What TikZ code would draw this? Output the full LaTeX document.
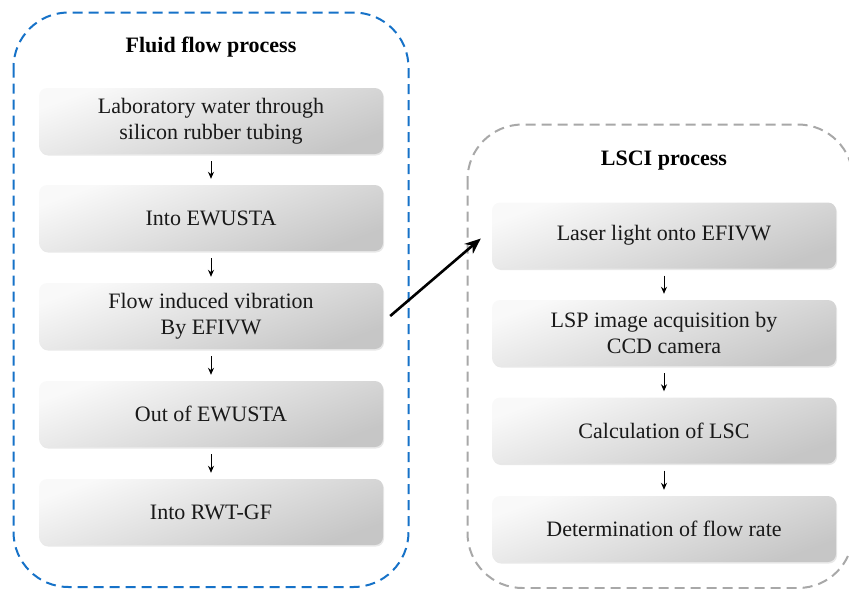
\documentclass[tikz,border=0pt]{standalone}
\usepackage{fontspec}
\setmainfont{Liberation Serif}
\usetikzlibrary{arrows.meta,calc,shadows}
\definecolor{flowblue}{RGB}{22,114,200}
\definecolor{lsgray}{RGB}{168,168,168}
\definecolor{txt}{RGB}{25,25,25}
\tikzset{
  stepbox/.style={rounded corners=8pt, minimum width=344pt, minimum height=66pt,
    inner sep=2pt, align=center, font=\fontsize{22}{26.5}\selectfont, text=txt,
    top color=gray!5, bottom color=gray!45, shading angle=20,
    drop shadow={opacity=0.18, shadow xshift=1pt, shadow yshift=-1.5pt}},
  grouptitle/.style={font=\fontsize{22}{26}\selectfont\bfseries, text=black},
  smallarrow/.style={-{Stealth[length=7pt,width=6pt]}, line width=1pt, shorten <=7pt, shorten >=6pt},
  bigarrow/.style={-{Stealth[length=16pt,width=13pt]}, line width=2.6pt},
  bluegroup/.style={draw=flowblue, line width=2pt, dash pattern=on 10pt off 6pt, rounded corners=55pt},
  graygroup/.style={draw=lsgray, line width=2pt, dash pattern=on 10pt off 6pt, rounded corners=55pt}
}
\begin{document}
\begin{tikzpicture}[x=1pt,y=-1pt]
\useasboundingbox (0,0) rectangle (849,589);
\draw[bluegroup] (13.5,12.5) rectangle (408.5,587);
\draw[graygroup] (467.5,124.5) rectangle (853,588);
\node[grouptitle] (t1) at (211,47) {Fluid flow process};
\node[grouptitle] (t2) at (664,161) {LSCI process};
\node[stepbox] (b1) at (211,121) {Laboratory water through\\silicon rubber tubing};
\node[stepbox] (b2) at (211,218) {Into EWUSTA};
\node[stepbox] (b3) at (211,316) {Flow induced vibration\\By EFIVW};
\node[stepbox] (b4) at (211,414) {Out of EWUSTA};
\node[stepbox] (b5) at (211,512) {Into RWT-GF};
\node[stepbox] (r1) at (664,235.5) {Laser light onto EFIVW};
\node[stepbox] (r2) at (664,333) {LSP image acquisition by\\CCD camera};
\node[stepbox] (r3) at (664,430.5) {Calculation of LSC};
\node[stepbox] (r4) at (664,529) {Determination of flow rate};
\draw[smallarrow] (b1) -- (b2);
\draw[smallarrow] (b2) -- (b3);
\draw[smallarrow] (b3) -- (b4);
\draw[smallarrow] (b4) -- (b5);
\draw[smallarrow] (r1) -- (r2);
\draw[smallarrow] (r2) -- (r3);
\draw[smallarrow] (r3) -- (r4);
\draw[bigarrow] ($(b3.east)+(7,0)$) -- ($(r1.west)+(-11,3)$);
\end{tikzpicture}
\end{document}
